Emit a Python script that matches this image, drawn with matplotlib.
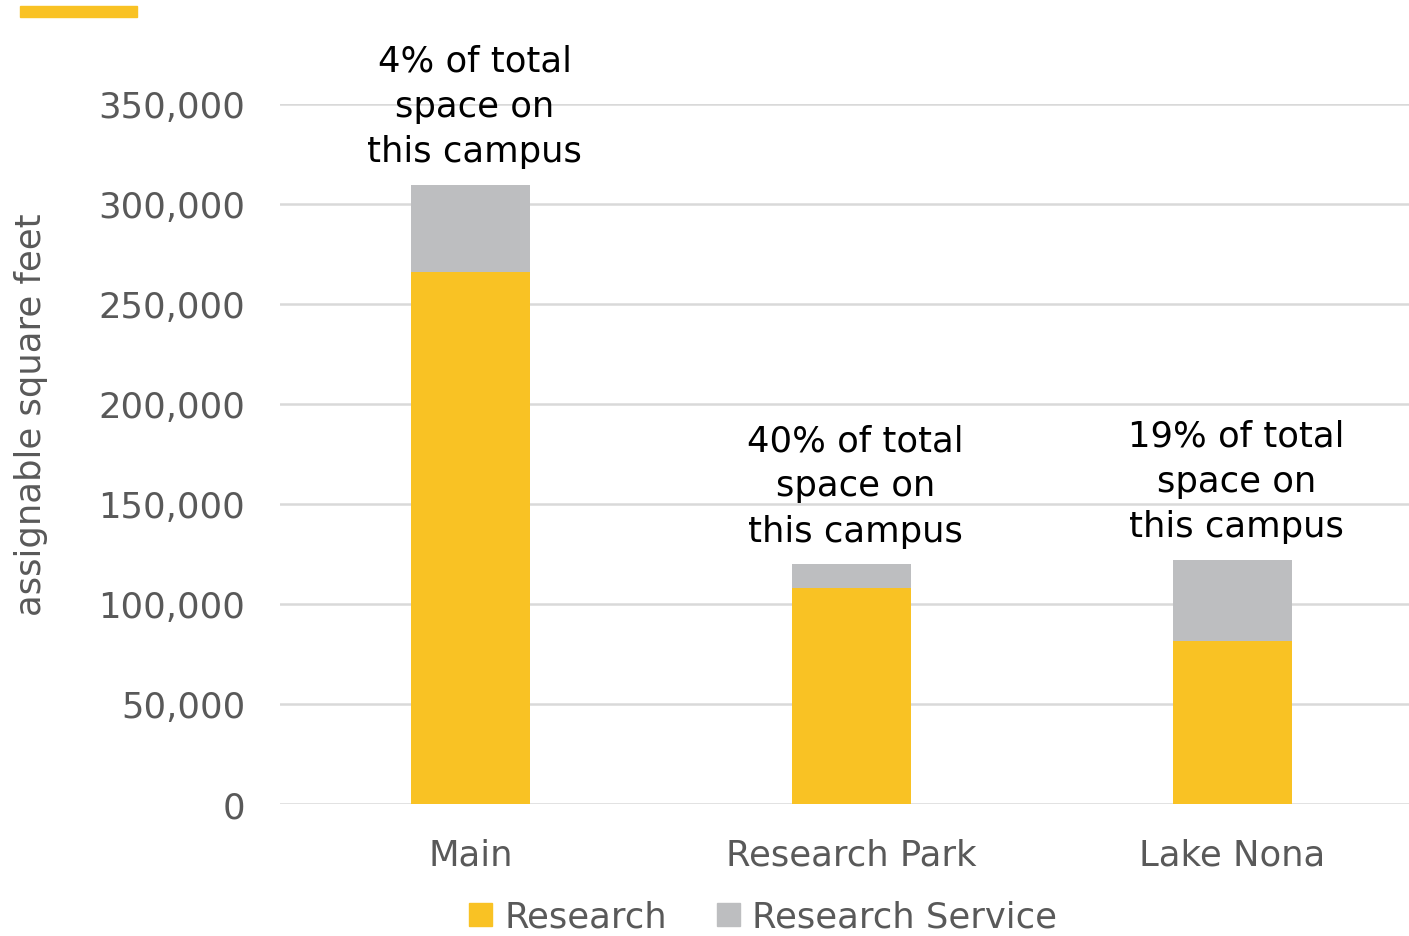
import matplotlib.pyplot as plt
from matplotlib.patches import Rectangle, Patch
from matplotlib.ticker import FuncFormatter

campuses = ["Main", "Research Park", "Lake Nona"]
research = [265800, 107800, 81300]
research_service = [43700, 12000, 40700]
notes = ["4% of total\nspace on\nthis campus",
         "40% of total\nspace on\nthis campus",
         "19% of total\nspace on\nthis campus"]

yellow = "#F9C224"
gray = "#BDBEC0"
text_gray = "#595959"

plt.rcParams['font.family'] = ['DejaVu Sans']
fs = 25.5

fig = plt.figure(figsize=(14.09, 9.37), dpi=100)
W, H = 1409, 937
ax = fig.add_axes([280 / W, (H - 805) / H, 1143 / W, 700 / H])

x = list(range(len(campuses)))
ax.bar(x, research, width=0.31, color=yellow, zorder=3)
totals = [r + s for r, s in zip(research, research_service)]
ax.bar(x, research_service, width=0.31, bottom=research, color=gray, zorder=3)

ax.set_xlim(-0.5, 2.5)
ax.set_ylim(0, 350000)
ax.set_yticks(range(0, 350001, 50000))
ax.yaxis.set_major_formatter(FuncFormatter(lambda v, p: f"{int(v):,}"))
ax.grid(axis="y", color="#D9D9D9", linewidth=1.8, zorder=0)
ax.set_xticks(x)
ax.set_xticklabels(campuses)
for s in ax.spines.values():
    s.set_visible(False)
ax.tick_params(axis="both", length=0, labelsize=fs, labelcolor=text_gray)
ax.tick_params(axis="y", pad=25)
ax.tick_params(axis="x", pad=24)

ax.set_ylabel("assignable square feet", fontsize=fs, color=text_gray)
ax.yaxis.set_label_coords(-232 / 1143, 0.557)

for i, (t, n) in enumerate(zip(totals, notes)):
    ax.annotate(n, (i, t), xytext=(3, 12), textcoords="offset points",
                ha="center", va="bottom", fontsize=fs, color="black",
                linespacing=1.42)

fig.add_artist(Rectangle((20 / W, 1 - 18 / H), 117 / W, 11 / H,
                         transform=fig.transFigure, color=yellow))

handles = [Patch(color=yellow, label="Research"),
           Patch(color=gray, label="Research Service")]
leg = fig.legend(handles=handles, loc="center", bbox_to_anchor=(763 / W, 1 - 918 / H),
                 ncol=2, frameon=False, fontsize=fs, handlelength=0.65,
                 handleheight=0.65, handletextpad=0.35, columnspacing=1.4)
for t in leg.get_texts():
    t.set_color(text_gray)

fig.savefig("out.png", dpi=100)
